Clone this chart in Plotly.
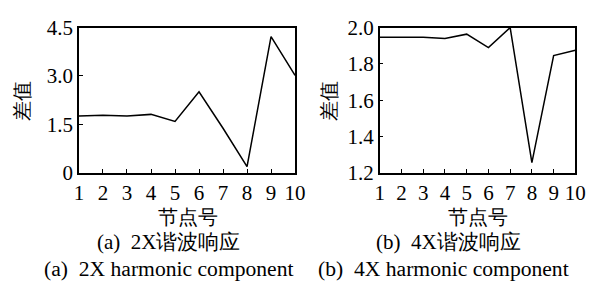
import plotly.graph_objects as go

nodes = [1, 2, 3, 4, 5, 6, 7, 8, 9, 10]
diff_2x = [1.76, 1.78, 1.76, 1.81, 1.59, 2.51, 1.38, 0.19, 4.22, 3.02]
diff_4x = [1.947, 1.947, 1.947, 1.940, 1.964, 1.890, 2.0, 1.256, 1.846, 1.875]

y_title = "差值"
x_title = "节点号"
cap_a_cn = "(a)  2X谐波响应"
cap_b_cn = "(b)  4X谐波响应"
cap_a_en = "(a)  2X harmonic component"
cap_b_en = "(b)  4X harmonic component"

FONT = "Liberation Serif"
W, H = 600, 295

fig = go.Figure()
fig.add_trace(go.Scatter(x=nodes, y=diff_2x, mode="lines",
                         line=dict(color="black", width=1.5), xaxis="x", yaxis="y"))
fig.add_trace(go.Scatter(x=nodes, y=diff_4x, mode="lines",
                         line=dict(color="black", width=1.5), xaxis="x2", yaxis="y2"))

ydom = [1 - 175 / H, 1 - 17 / H]
axis_common = dict(showline=True, linecolor="black", linewidth=1.5, mirror=True,
                   ticks="inside", ticklen=4, tickwidth=1.2, tickcolor="black",
                   showgrid=False, zeroline=False,
                   tickfont=dict(family=FONT, size=21, color="black"))

fig.update_layout(
    width=W, height=H,
    margin=dict(l=0, r=0, t=0, b=0),
    paper_bgcolor="white", plot_bgcolor="white",
    showlegend=False,
    font=dict(family=FONT),
    xaxis=dict(domain=[76 / W, 298 / W], range=[1, 10], tickvals=nodes, **axis_common, anchor="y"),
    yaxis=dict(domain=ydom, range=[0, 4.5], tickvals=[0, 1.5, 3.0, 4.5],
               ticktext=["0", "1.5", "3.0", "4.5"], **axis_common, anchor="x"),
    xaxis2=dict(domain=[385 / W, 586 / W], range=[1, 10], tickvals=nodes, **axis_common, anchor="y2"),
    yaxis2=dict(domain=ydom, range=[1.2, 2.0], tickvals=[1.2, 1.4, 1.6, 1.8, 2.0],
                ticktext=["1.2", "1.4", "1.6", "1.8", "2.0"], **axis_common, anchor="x2"),
)

def txt(x, y, s, size=20, angle=0):
    fig.add_annotation(x=x / W, y=1 - y / H, xref="paper", yref="paper", text=s,
                       showarrow=False, textangle=angle,
                       font=dict(family=FONT, size=size, color="black"),
                       xanchor="center", yanchor="middle")

txt(18, 97, y_title, angle=-90)
txt(333, 97, y_title, angle=-90)
txt(188, 223, x_title)
txt(486, 223, x_title)
txt(168, 250, cap_a_cn, size=21)
txt(456, 250, cap_b_cn, size=21)
txt(168, 280, cap_a_en, size=21.6)
txt(451, 280, cap_b_en, size=21.6)

fig.write_html("out.html", config={"displayModeBar": False},
               post_script="document.body.style.margin='0px';document.body.style.overflow='hidden';")
